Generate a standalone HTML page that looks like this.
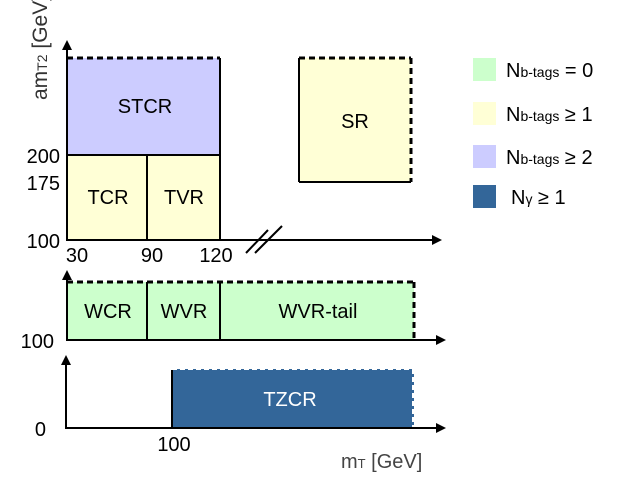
<!DOCTYPE html>
<html><head><style>body{margin:0;background:#fff}svg{display:block}</style></head><body>
<svg width="623" height="477" xmlns="http://www.w3.org/2000/svg" font-family="Liberation Sans, sans-serif">
<defs><marker id="a" markerWidth="10" markerHeight="10" refX="8" refY="5" orient="auto" markerUnits="userSpaceOnUse"><path d="M0,0 L10,5 L0,10 z" fill="#000"/></marker></defs>
<rect x="67" y="58" width="153" height="97" fill="#ccccff"/>
<rect x="67" y="155" width="153" height="85" fill="#ffffd6"/>
<line x1="67" y1="155" x2="220" y2="155" stroke="#000" stroke-width="2"/>
<line x1="147" y1="155" x2="147" y2="240" stroke="#000" stroke-width="2"/>
<line x1="220" y1="58" x2="220" y2="240" stroke="#000" stroke-width="2"/>
<line x1="67" y1="58" x2="220" y2="58" stroke="#000" stroke-width="3" stroke-dasharray="6,4"/>
<rect x="299" y="58" width="112" height="124" fill="#ffffd6"/>
<line x1="299" y1="58" x2="299" y2="182" stroke="#000" stroke-width="2"/>
<line x1="299" y1="182" x2="411" y2="182" stroke="#000" stroke-width="2"/>
<line x1="299" y1="58" x2="411" y2="58" stroke="#000" stroke-width="3" stroke-dasharray="6,4"/>
<line x1="411" y1="58" x2="411" y2="182" stroke="#000" stroke-width="3" stroke-dasharray="6,4"/>
<line x1="67" y1="240" x2="67" y2="42" stroke="#000" stroke-width="2" marker-end="url(#a)"/>
<line x1="66" y1="240" x2="440" y2="240" stroke="#000" stroke-width="2" marker-end="url(#a)"/>
<line x1="246" y1="253" x2="268" y2="230" stroke="#000" stroke-width="2"/>
<line x1="255" y1="253" x2="282" y2="226" stroke="#000" stroke-width="2"/>
<text x="145" y="113" font-size="20" text-anchor="middle">STCR</text>
<text x="108" y="204" font-size="20" text-anchor="middle">TCR</text>
<text x="184" y="204" font-size="20" text-anchor="middle">TVR</text>
<text x="355" y="128" font-size="20" text-anchor="middle">SR</text>
<text x="60" y="163" font-size="20" text-anchor="end">200</text>
<text x="60" y="190" font-size="20" text-anchor="end">175</text>
<text x="60" y="248" font-size="20" text-anchor="end">100</text>
<text x="77" y="262" font-size="20" text-anchor="middle">30</text>
<text x="152" y="262" font-size="20" text-anchor="middle">90</text>
<text x="216" y="262" font-size="20" text-anchor="middle">120</text>
<text transform="translate(47,100) rotate(-90)" font-size="21" fill="#333">am<tspan font-size="14">T2</tspan> [GeV]</text>
<rect x="67" y="282" width="347" height="58" fill="#ccffcc"/>
<line x1="147" y1="282" x2="147" y2="340" stroke="#000" stroke-width="2"/>
<line x1="220" y1="282" x2="220" y2="340" stroke="#000" stroke-width="2"/>
<line x1="67" y1="282" x2="414" y2="282" stroke="#000" stroke-width="3" stroke-dasharray="6,4"/>
<line x1="414" y1="282" x2="414" y2="340" stroke="#000" stroke-width="3" stroke-dasharray="6,4"/>
<line x1="67" y1="340" x2="67" y2="272" stroke="#000" stroke-width="2" marker-end="url(#a)"/>
<line x1="66" y1="340" x2="444" y2="340" stroke="#000" stroke-width="2" marker-end="url(#a)"/>
<text x="108" y="318" font-size="20" text-anchor="middle">WCR</text>
<text x="184" y="318" font-size="20" text-anchor="middle">WVR</text>
<text x="318" y="318" font-size="20" text-anchor="middle">WVR-tail</text>
<text x="54" y="348" font-size="20" text-anchor="end">100</text>
<rect x="172" y="369" width="242" height="59" fill="#336699"/>
<line x1="172" y1="370" x2="172" y2="428" stroke="#000" stroke-width="2"/>
<line x1="172" y1="369" x2="414" y2="369" stroke="#fff" stroke-width="2" stroke-dasharray="5,3"/>
<line x1="413" y1="369" x2="413" y2="428" stroke="#fff" stroke-width="2" stroke-dasharray="5,3"/>
<line x1="66" y1="428" x2="66" y2="357" stroke="#000" stroke-width="2" marker-end="url(#a)"/>
<line x1="65" y1="428" x2="444" y2="428" stroke="#000" stroke-width="2" marker-end="url(#a)"/>
<text x="290" y="406" font-size="20" fill="#fff" text-anchor="middle">TZCR</text>
<text x="46" y="436" font-size="20" text-anchor="end">0</text>
<text x="174" y="451" font-size="20" text-anchor="middle">100</text>
<text x="341" y="468" font-size="20" fill="#444">m<tspan font-size="13">T</tspan> [GeV]</text>
<rect x="473" y="58" width="23" height="23" fill="#ccffcc"/>
<rect x="473" y="102" width="23" height="23" fill="#ffffd6"/>
<rect x="473" y="145" width="23" height="23" fill="#ccccff"/>
<rect x="473" y="185" width="23" height="23" fill="#336699"/>
<text x="506" y="77" font-size="20">N<tspan font-size="14">b-tags</tspan> = 0</text>
<text x="506" y="121" font-size="20">N<tspan font-size="14">b-tags</tspan> ≥ 1</text>
<text x="506" y="164" font-size="20">N<tspan font-size="14">b-tags</tspan> ≥ 2</text>
<text x="511" y="204" font-size="20">N<tspan font-size="14">γ</tspan> ≥ 1</text>
</svg>
</body></html>
